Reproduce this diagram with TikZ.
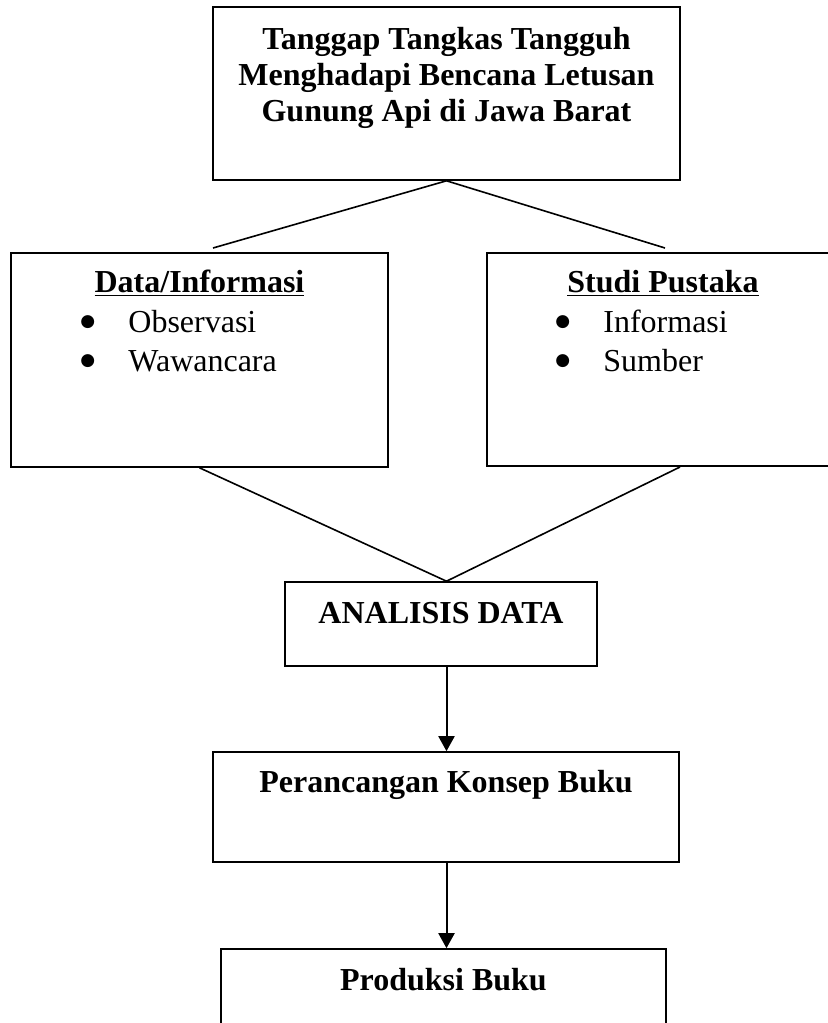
\documentclass[tikz,border=0pt]{standalone}
\usepackage{fontspec}
\setmainfont{Liberation Serif}
\newfontfamily\dotfont{DejaVu Sans}
\usetikzlibrary{arrows.meta,positioning}

\newcommand{\bigdot}{\makebox[23pt][l]{\hspace{-1pt}\raisebox{3pt}{\dotfont\fontsize{8.5pt}{8.5pt}\selectfont ●}}}

\tikzset{
  box/.style={draw, line width=0.8pt, inner sep=0pt},
  head/.style={inner sep=0pt, font=\fontsize{16pt}{18pt}\selectfont\bfseries, align=center},
  items/.style={inner sep=0pt, anchor=north west, align=left, font=\fontsize{16pt}{19.5pt}\selectfont},
  link/.style={line width=0.8pt},
  arr/.style={line width=1pt, -{Triangle[width=8pt,length=7.5pt]}}
}

\begin{document}
\begin{tikzpicture}[x=0.5pt, y=-0.5pt]
      \useasboundingbox (0,0) rectangle (828,1023);
      \clip (0,0) rectangle (828,1023);
      % boxes
      \node[box, minimum width=233.5pt, minimum height=86.5pt] (top) at (446.5,93.5) {};
      \node[box, minimum width=188.5pt, minimum height=107pt] (data) at (199.5,360) {};
      \node[box, minimum width=176pt, minimum height=106.5pt] (studi) at (663,359.5) {};
      \node[box, minimum width=156pt, minimum height=42pt] (ana) at (441,624) {};
      \node[box, minimum width=233pt, minimum height=55pt] (plan) at (446,807) {};
      \node[box, minimum width=222.5pt, minimum height=50pt] (prod) at (443.5,999) {};
      % texts
      \node[head, anchor=north] (topt) at (446.5,27) {Tanggap Tangkas Tangguh\\Menghadapi Bencana Letusan\\Gunung Api di Jawa Barat};
      \node[head, anchor=base] (datat) at (199.5,292) {\underline{Data/Informasi}};
      \node[items] (datal) at (82,310) {\bigdot Observasi\\\bigdot Wawancara};
      \node[head, anchor=base] (studit) at (663,292) {\underline{Studi Pustaka}};
      \node[items] (studil) at (557,310) {\bigdot Informasi\\\bigdot Sumber};
      \node[head, anchor=base] (anat) at (441,623) {ANALISIS DATA};
      \node[head, anchor=base] (plant) at (446,792) {Perancangan Konsep Buku};
      \node[head, anchor=base] (prodt) at (443.5,990) {Produksi Buku};
      % connectors
      \coordinate (ltip) at (213,248);
      \coordinate (rtip) at (665,248);
      \coordinate (rfoot) at (680,467);
      \draw[link] (ltip) -- (top.south) -- (rtip);
      \draw[link] (data.south) -- (ana.north -| top.south) -- (rfoot);
      \draw[arr] (ana.south -| top.south) -- (plan.north -| top.south);
      \draw[arr] (plan.south -| top.south) -- (prod.north -| top.south);
\end{tikzpicture}
\end{document}
